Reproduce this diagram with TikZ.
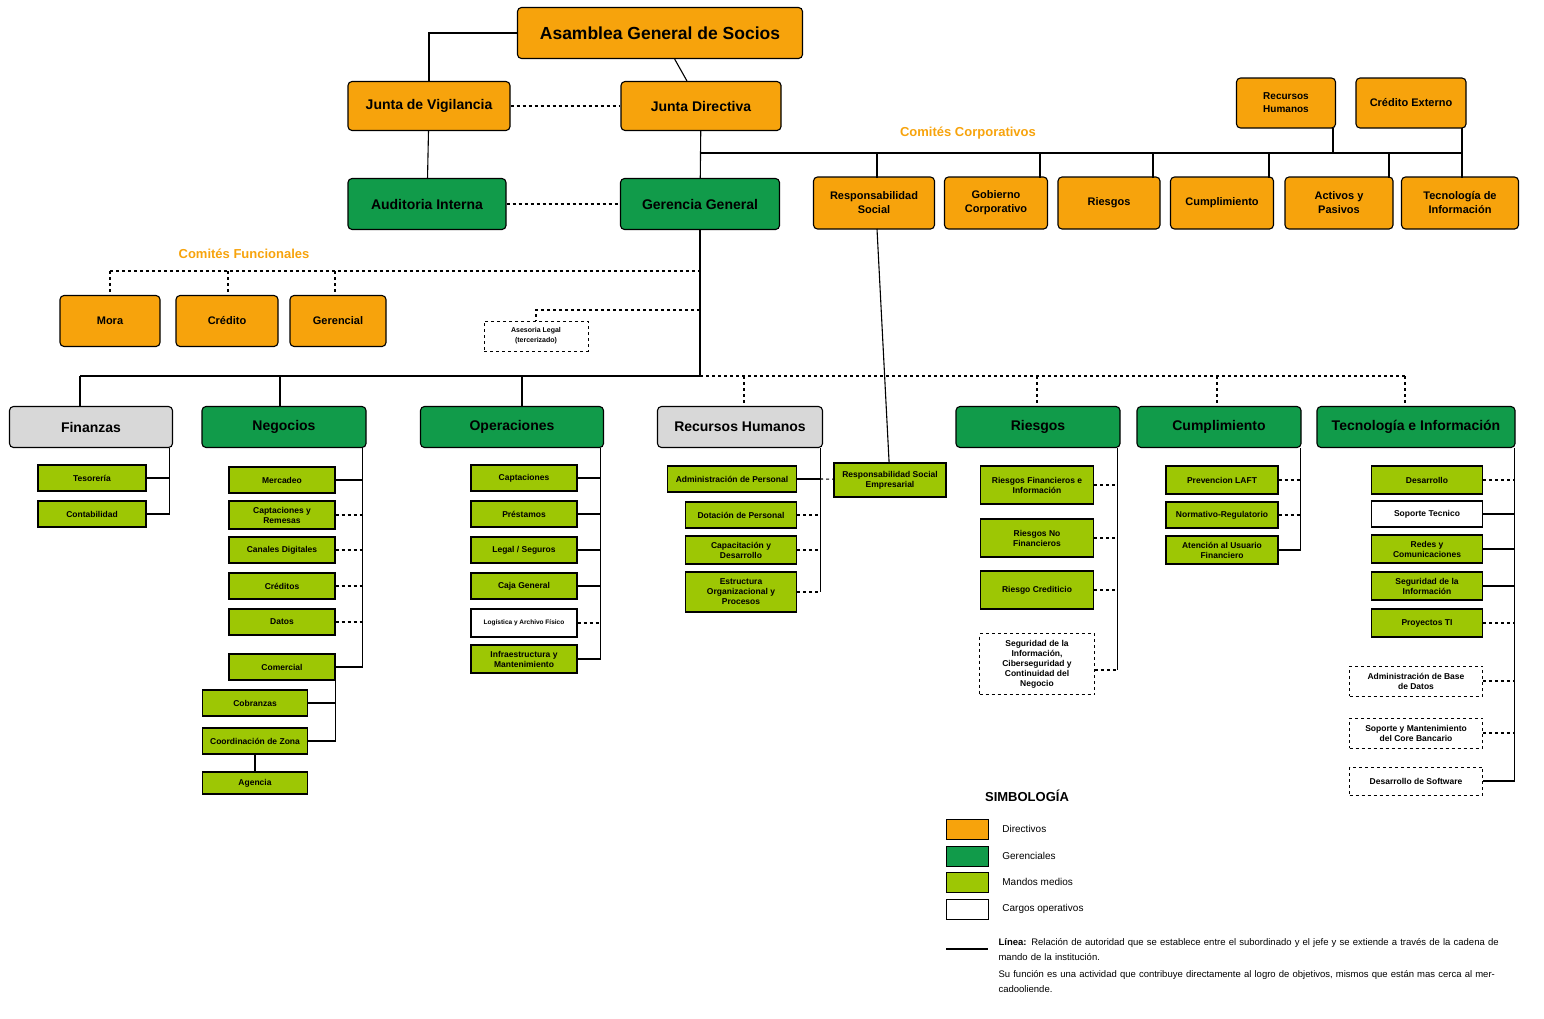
\documentclass[tikz,border=0pt]{standalone}
\usepackage{fontspec}
\setmainfont{Liberation Sans}
\usetikzlibrary{positioning}
\definecolor{naranja}{HTML}{F7A30C}
\definecolor{verdeG}{HTML}{119B4A}
\definecolor{lima}{HTML}{9DC704}
\definecolor{grisB}{HTML}{D8D8D8}
\tikzset{
  caja/.style={draw, line width=1.1pt, align=center, inner sep=1pt, font=\bfseries},
  dir/.style={caja, rounded corners=4pt, fill=naranja},
  ger/.style={caja, rounded corners=4pt, fill=verdeG},
  gris/.style={caja, rounded corners=4pt, fill=grisB},
  mando/.style={caja, fill=lima, font=\bfseries\fontsize{8.5}{10}\selectfont},
  oper/.style={caja, fill=white, font=\bfseries\fontsize{8.5}{10}\selectfont},
  ext/.style={draw, dashed, line width=0.9pt, fill=white, align=center, inner sep=1pt,
    font=\bfseries\fontsize{8.5}{10}\selectfont},
  dsh/.style={dashed},
  tit/.style={text=naranja, font=\bfseries\fontsize{13}{15}\selectfont}
}
\begin{document}
\begin{tikzpicture}[x=1pt, y=-1pt, line width=1.1pt,
  lvl1/.style={font=\bfseries\fontsize{14}{16}\selectfont},
  lvl2/.style={minimum height=41pt, font=\bfseries\fontsize{14}{16}\selectfont},
  com/.style={dir, minimum height=52pt, font=\bfseries\fontsize{11}{14}\selectfont}]
\useasboundingbox (0,0) rectangle (1544,1018);
% directivos
\node[dir, minimum width=285, minimum height=51, font=\bfseries\fontsize{17.5}{20}\selectfont] (asam) at (660,33) {Asamblea General de Socios};
\node[dir, lvl1, minimum width=162, minimum height=49] (vig) at (429,106) {Junta de Vigilancia};
\node[dir, lvl1, minimum width=160, minimum height=49] (jdir) at (701,106) {Junta Directiva};
\node[ger, lvl1, minimum width=158, minimum height=51] (aud) at (427,204) {Auditoria Interna};
\node[ger, lvl1, minimum width=159, minimum height=51] (gg) at (700,204) {Gerencia General};
% comites corporativos
\node[tit] (tcorp) at (968,133) {Comités Corporativos};
\node[com, minimum width=121] (cresp) at (874,203) {Responsabilidad\\Social};
\node[com, minimum width=103] (cgob) at (996,203) {Gobierno\\Corporativo};
\node[com, minimum width=102] (cries) at (1109,203) {Riesgos};
\node[com, minimum width=103] (ccum) at (1222,203) {Cumplimiento};
\node[com, minimum width=108] (cact) at (1339,203) {Activos y\\Pasivos};
\node[com, minimum width=117] (ctec) at (1460,203) {Tecnología de\\Información};
\node[dir, minimum width=99, minimum height=50, font=\bfseries\fontsize{10}{13}\selectfont] (crh) at (1286,103) {Recursos\\Humanos};
\node[dir, minimum width=110, minimum height=50, font=\bfseries\fontsize{11}{13}\selectfont] (cext) at (1411,103) {Crédito Externo};
% comites funcionales
\node[tit] (tfun) at (244,254) {Comités Funcionales};
\node[dir, minimum width=100, minimum height=51, font=\bfseries\fontsize{11}{13}\selectfont] (mora) at (110,321) {Mora};
\node[dir, minimum width=102, minimum height=51, font=\bfseries\fontsize{11}{13}\selectfont] (cred) at (227,321) {Crédito};
\node[dir, minimum width=96, minimum height=51, font=\bfseries\fontsize{11}{13}\selectfont] (gcial) at (338,321) {Gerencial};
\node[ext, minimum width=104, minimum height=30, font=\bfseries\fontsize{7}{10}\selectfont] (ases) at (536,336) {Asesoria Legal\\(tercerizado)};
% gerencias
\node[gris, lvl2, minimum width=163] (fin) at (91,427) {Finanzas};
\node[ger, lvl2, minimum width=164] (neg) at (284,427) {Negocios};
\node[ger, lvl2, minimum width=183] (ope) at (512,427) {Operaciones};
\node[gris, lvl2, minimum width=165] (rh) at (740,427) {Recursos Humanos};
\node[ger, lvl2, minimum width=164] (rie) at (1038,427) {Riesgos};
\node[ger, lvl2, minimum width=164] (cum) at (1219,427) {Cumplimiento};
\node[ger, lvl2, minimum width=198] (ti) at (1416,427) {Tecnología e Información};
% finanzas
\node[mando, minimum width=108, minimum height=26] (tes) at (92,478) {Tesorería};
\node[mando, minimum width=108, minimum height=26] (con) at (92,514) {Contabilidad};
% negocios
\node[mando, minimum width=106, minimum height=26] (mer) at (282,480) {Mercadeo};
\node[mando, minimum width=106, minimum height=28] (capr) at (282,515) {Captaciones y\\Remesas};
\node[mando, minimum width=106, minimum height=26] (can) at (282,550) {Canales Digitales};
\node[mando, minimum width=106, minimum height=26] (crs) at (282,586) {Créditos};
\node[mando, minimum width=106, minimum height=26] (dat) at (282,622) {Datos};
\node[mando, minimum width=106, minimum height=26] (come) at (282,667) {Comercial};
\node[mando, minimum width=105, minimum height=26] (cob) at (255,703) {Cobranzas};
\node[mando, minimum width=105, minimum height=26] (coz) at (255,741) {Coordinación de Zona};
\node[mando, minimum width=105, minimum height=22] (age) at (255,783) {Agencia};
% operaciones
\node[mando, minimum width=106, minimum height=26] (capt) at (524,478) {Captaciones};
\node[mando, minimum width=106, minimum height=26] (pre) at (524,514) {Préstamos};
\node[mando, minimum width=106, minimum height=26] (leg) at (524,550) {Legal / Seguros};
\node[mando, minimum width=106, minimum height=26] (caja) at (524,586) {Caja General};
\node[oper, minimum width=106, minimum height=28, font=\bfseries\fontsize{6.5}{8}\selectfont] (logi) at (524,623) {Logística y Archivo Físico};
\node[mando, minimum width=106, minimum height=28] (infra) at (524,659) {Infraestructura y\\Mantenimiento};
% recursos humanos
\node[mando, minimum width=129, minimum height=26] (adm) at (732,479) {Administración de Personal};
\node[mando, minimum width=111, minimum height=26] (dot) at (741,515) {Dotación de Personal};
\node[mando, minimum width=111, minimum height=28] (capa) at (741,550) {Capacitación y\\Desarrollo};
\node[mando, minimum width=111, minimum height=40] (estr) at (741,592) {Estructura\\Organizacional y\\Procesos};
\node[mando, minimum width=112, minimum height=34] (rse) at (890,480) {Responsabilidad Social\\Empresarial};
% riesgos
\node[mando, minimum width=113, minimum height=38] (rfi) at (1037,485) {Riesgos Financieros e\\Información};
\node[mando, minimum width=113, minimum height=38] (rnf) at (1037,538) {Riesgos No\\Financieros};
\node[mando, minimum width=113, minimum height=38] (rcr) at (1037,590) {Riesgo Crediticio};
\node[ext, minimum width=115, minimum height=61] (segi) at (1037,664) {Seguridad de la\\Información,\\Ciberseguridad y\\Continuidad del\\Negocio};
% cumplimiento
\node[mando, minimum width=112, minimum height=28] (laft) at (1222,480) {Prevencion LAFT};
\node[mando, minimum width=112, minimum height=26] (norm) at (1222,515) {Normativo-Regulatorio};
\node[mando, minimum width=112, minimum height=28] (aten) at (1222,550) {Atención al Usuario\\Financiero};
% tecnologia
\node[mando, minimum width=111, minimum height=28] (des) at (1427,480) {Desarrollo};
\node[oper, minimum width=111, minimum height=26] (sop) at (1427,514) {Soporte Tecnico};
\node[mando, minimum width=111, minimum height=28] (red) at (1427,549) {Redes y\\Comunicaciones};
\node[mando, minimum width=111, minimum height=28] (seg) at (1427,586) {Seguridad de la\\Información};
\node[mando, minimum width=111, minimum height=28] (pro) at (1427,623) {Proyectos TI};
\node[ext, minimum width=133, minimum height=30] (abd) at (1416,681) {Administración de Base\\de Datos};
\node[ext, minimum width=133, minimum height=30] (score) at (1416,733) {Soporte y Mantenimiento\\del Core Bancario};
\node[ext, minimum width=133, minimum height=28] (dsw) at (1416,781) {Desarrollo de Software};

% conectores superiores
\draw (asam) -| (vig);
\draw (asam) -- (jdir);
\draw[dsh] (vig) -- (jdir);
\draw (vig) -- (aud);
\draw (jdir) -- (gg);
\draw[dsh] (aud) -- (gg);
\coordinate (busC) at (700,153);
\draw (busC) -- (1462,153);
\foreach \n/\xx in {cresp/877, cgob/1040, cries/1153, ccum/1269, cact/1389, ctec/1462}
  \draw (\xx,153) -- (\xx,178);
\draw (1333,128) -- (1333,153);
\draw (1462,128) -- (1462,153);
% comites funcionales
\draw[dsh] (110,271) -- (700,271);
\foreach \xx in {110,228,335} \draw[dsh] (\xx,271) -- (\xx,296);
\draw[dsh] (700,310) -| (ases);
% bus de gerencias
\draw (gg) -- (700,376);
\draw (80,376) -- (700,376);
\draw[dsh] (700,376) -- (1405,376);
\foreach \xx/\n in {80/fin, 280/neg, 522/ope} \draw (\xx,376) -- (\xx,406);
\foreach \xx/\n in {744/rh, 1037/rie, 1217/cum, 1405/ti} \draw[dsh] (\xx,376) -- (\xx,406);
\draw (877,229) -- (rse);
% finanzas
\draw ([xshift=-4pt]fin.south east) coordinate (finS) |- (con);
\draw (tes) -- (tes -| finS);
% negocios
\draw ([xshift=-4pt]neg.south east) coordinate (negS) |- (come);
\foreach \n/\s in {mer/solid, capr/dsh, can/dsh, crs/dsh, dat/dsh}
  \draw[\s] (\n) -- (\n -| negS);
\draw (come.south east) coordinate (comS) |- (coz);
\draw (cob) -- (cob -| comS);
\draw (coz) -- (age);
% operaciones
\draw ([xshift=-4pt]ope.south east) coordinate (opeS) |- (infra);
\foreach \n/\s in {capt/solid, pre/solid, leg/solid, caja/solid, logi/dsh}
  \draw[\s] (\n) -- (\n -| opeS);
% recursos humanos
\draw ([xshift=-3pt]rh.south east) coordinate (rhS) -- (rhS |- estr);
\draw (adm) -- (adm -| rhS);
\draw[dsh] (adm -| rhS) -- (rse);
\foreach \n in {dot, capa, estr} \draw[dsh] (\n) -- (\n -| rhS);
% riesgos
\draw ([xshift=-3pt]rie.south east) coordinate (rieS) -- (rieS |- 0,670);
\foreach \n in {rfi, rnf, rcr} \draw[dsh] (\n) -- (\n -| rieS);
\draw[dsh] (segi.east |- 0,670) -- (rieS |- 0,670);
% cumplimiento
\draw ([xshift=-1pt]cum.south east) coordinate (cumS) |- (aten);
\foreach \n in {laft, norm} \draw[dsh] (\n) -- (\n -| cumS);
% tecnologia
\draw ([xshift=-1pt]ti.south east) coordinate (tiS) |- (dsw);
\foreach \n/\s in {des/dsh, sop/solid, red/solid, seg/solid, pro/dsh, abd/dsh, score/dsh}
  \draw[\s] (\n) -- (\n -| tiS);

% simbologia
\node[font=\bfseries\fontsize{13}{15}\selectfont] (simb) at (1027,796) {SIMBOLOGÍA};
\foreach \c/\t/\yy [count=\i] in {naranja/Directivos/829, verdeG/Gerenciales/856, lima/Mandos medios/882, white/Cargos operativos/909}{
  \node[draw, line width=1pt, fill=\c, minimum width=42, minimum height=20] (sw\i) at (967,\yy) {};
  \node[right=10pt of sw\i, font=\fontsize{10}{12}\selectfont] (lb\i) {\t};
}
\coordinate (linA) at (946,949);
\coordinate (linB) at (988,949);
\draw[line width=1.4pt] (linA) -- (linB);
\node[anchor=north west, text width=520, align=left, inner sep=0pt,
  font=\fontsize{9.5}{15}\selectfont] (txt) at (998,938)
  {\textbf{Línea:} Relación de autoridad que se establece entre el subordinado y el jefe y se extiende a través de la cadena de mando de la institución.\\[2pt]
   Su función es una actividad que contribuye directamente al logro de objetivos, mismos que están mas cerca al mercadooliende.};
\end{tikzpicture}
\end{document}
